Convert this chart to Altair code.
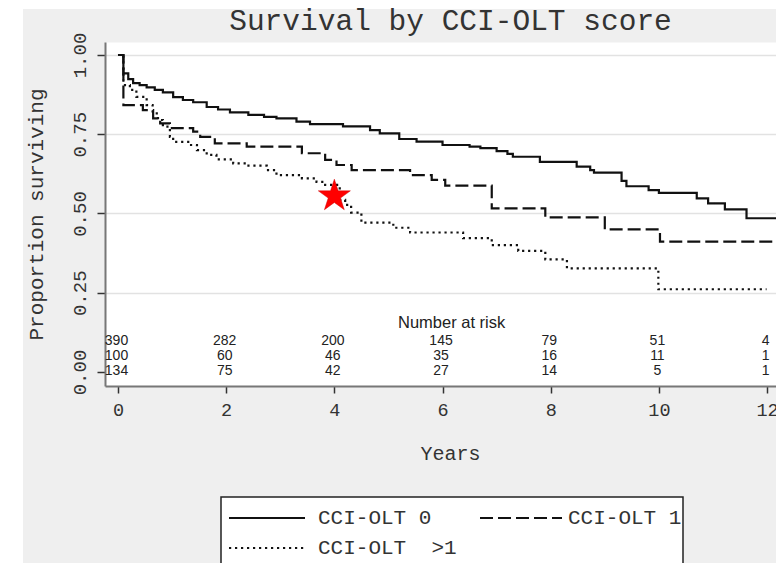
import altair as alt
import pandas as pd

# Kaplan-Meier survival by CCI-OLT score group
series = ["CCI-OLT 0", "CCI-OLT 1", "CCI-OLT  >1"]

# step times (years) and survival proportion after each step
t_cci0 = [0, 0.10, 0.19, 0.28, 0.40, 0.53, 0.68, 0.83, 1.02, 1.20, 1.39, 1.64, 1.85,
          2.07, 2.41, 2.70, 2.93, 3.30, 3.55, 4.16, 4.66, 4.84, 5.20, 5.52, 6.00,
          6.50, 6.70, 7.00, 7.20, 7.30, 7.80, 8.48, 8.73, 8.80, 9.31, 9.40, 9.81,
          10.00, 10.70, 10.91, 11.22, 11.62, 12.165]
s_cci0 = [1.0, 0.942, 0.924, 0.911, 0.905, 0.898, 0.890, 0.882, 0.867, 0.858, 0.851,
          0.836, 0.828, 0.819, 0.811, 0.805, 0.800, 0.790, 0.782, 0.775, 0.763, 0.753,
          0.735, 0.727, 0.716, 0.711, 0.706, 0.697, 0.688, 0.679, 0.663, 0.648, 0.637,
          0.629, 0.603, 0.586, 0.574, 0.565, 0.548, 0.532, 0.513, 0.485, 0.485]

t_cci1 = [0, 0.10, 0.46, 0.65, 0.78, 0.96, 1.39, 1.52, 1.79, 2.38, 3.40, 3.83, 4.04,
          4.32, 5.40, 5.80, 6.05, 6.91, 7.90, 9.00, 10.02, 12.165]
s_cci1 = [1.0, 0.842, 0.826, 0.800, 0.784, 0.769, 0.758, 0.742, 0.721, 0.711, 0.690,
          0.669, 0.653, 0.637, 0.621, 0.606, 0.588, 0.516, 0.488, 0.450, 0.411, 0.411]

t_cci2 = [0, 0.10, 0.22, 0.34, 0.53, 0.64, 0.74, 0.83, 0.96, 1.02, 1.33, 1.46, 1.64,
          1.82, 2.13, 2.38, 2.75, 2.93, 3.40, 3.67, 3.83, 4.10, 4.20, 4.31, 4.50,
          5.09, 5.40, 6.38, 6.91, 7.40, 7.90, 8.30, 9.99, 11.99]
s_cci2 = [1.0, 0.905, 0.890, 0.868, 0.842, 0.816, 0.795, 0.774, 0.742, 0.726, 0.716,
          0.700, 0.685, 0.671, 0.658, 0.651, 0.637, 0.621, 0.611, 0.600, 0.590, 0.543,
          0.527, 0.503, 0.471, 0.455, 0.440, 0.422, 0.400, 0.382, 0.355, 0.327, 0.261,
          0.261]

# number at risk table
risk_years = [0, 2, 4, 6, 8, 10, 12]
risk_cci0 = [390, 282, 200, 145, 79, 51, 4]
risk_cci1 = [100, 60, 46, 35, 16, 11, 1]
risk_cci2 = [134, 75, 42, 27, 14, 5, 1]

# highlighted point
star_years = [4.0]
star_surv = [0.555]

y_ticks = [0, 0.25, 0.5, 0.75, 1.0]

chart_title = "Survival by CCI-OLT score"

curve_rows = []
for name, ts, ss in zip(series, [t_cci0, t_cci1, t_cci2], [s_cci0, s_cci1, s_cci2]):
    for t, s in zip(ts, ss):
        curve_rows.append({"group": name, "years": t, "surv": s})
curves_df = pd.DataFrame(curve_rows)

risk_rows = []
for name, ns in zip(series, [risk_cci0, risk_cci1, risk_cci2]):
    for yr, n in zip(risk_years, ns):
        risk_rows.append({"group": name, "years": yr, "n": n})
risk_df = pd.DataFrame(risk_rows)

star_df = pd.DataFrame({"years": star_years, "surv": star_surv})

MONO = "Liberation Mono"
SANS = "Liberation Sans"
INK = "#222222"

x_scale = alt.Scale(domain=[-0.24, 12.165], nice=False, zero=False)
y_scale = alt.Scale(domain=[-0.0442, 1.041], nice=False, zero=False)

x_axis = alt.Axis(
    values=risk_years, format="d", title="Years", grid=False,
    labelFont=MONO, labelFontSize=18.5, labelColor="#333", labelPadding=7, labelFlush=False,
    tickSize=7, tickColor="#333", tickWidth=1.5,
    domainColor="#777", domainWidth=2,
    titleFont=MONO, titleFontSize=20, titleFontWeight="normal", titleColor="#333",
    titleX=345, titleY=73, titleBaseline="alphabetic",
)
y_axis = alt.Axis(
    values=y_ticks, format=".2f", title="Proportion surviving",
    labelFont=MONO, labelFontSize=19, labelColor="#333",
    labelAngle=270, labelAlign="center", labelBaseline="alphabetic", labelPadding=12,
    tickSize=8, tickColor="#333", tickWidth=1.5,
    domainColor="#777", domainWidth=2,
    grid=True, gridColor="#e2e2e2", gridWidth=1.5,
    gridOpacity={"condition": {"test": "datum.value === 0", "value": 0}, "value": 1},
    titleFont=MONO, titleFontSize=21, titleFontWeight="normal", titleColor="#333",
    titleAngle=270, titleAlign="center", titleBaseline="alphabetic",
    titleX=-63, titleY=172,
)

dash_styles = [[1, 0], [13, 5], [2.2, 3.8]]

curves = alt.Chart(curves_df).mark_line(
    interpolate="step-after", color="#111", strokeWidth=2.2
).encode(
    x=alt.X("years:Q", scale=x_scale, axis=x_axis),
    y=alt.Y("surv:Q", scale=y_scale, axis=y_axis),
    strokeDash=alt.StrokeDash("group:N", scale=alt.Scale(domain=series, range=dash_styles),
                              legend=None),
)

STAR = ("M0,-1 L0.2245,-0.309 L0.951,-0.309 L0.363,0.118 L0.588,0.809 L0,0.382 "
        "L-0.588,0.809 L-0.363,0.118 L-0.951,-0.309 L-0.2245,-0.309 Z")
star = alt.Chart(star_df).mark_point(
    shape=STAR, filled=True, fill="#ff0000", stroke="#d00000", strokeWidth=0.5,
    size=1135, opacity=1
).encode(
    x=alt.X("years:Q", scale=x_scale, axis=x_axis),
    y=alt.Y("surv:Q", scale=y_scale, axis=None),
)

risk = alt.Chart(risk_df).mark_text(
    font=SANS, fontSize=14, color=INK, align="center", baseline="alphabetic", dx=-1.5
).encode(
    x=alt.X("years:Q", scale=x_scale, axis=x_axis),
    y=alt.Y("group:N", scale=alt.Scale(domain=series, range=[303, 333], padding=0), axis=None),
    text="n:Q",
)

risk_title = alt.Chart(pd.DataFrame({"label": ["Number at risk"]})).mark_text(
    font=SANS, fontSize=16.5, color=INK, align="left", baseline="alphabetic"
).encode(x=alt.value(293), y=alt.value(286), text="label:N")

one = pd.DataFrame({"k": [0]})

# heading above the plot panel
heading = alt.Chart(pd.DataFrame({"label": [chart_title]})).mark_text(
    font=MONO, fontSize=29.5, color="#333", align="center", baseline="alphabetic"
).encode(x=alt.value(345.5), y=alt.value(-12), text="label:N")

# white margin strips around the grey panel
strips = alt.layer(
    alt.Chart(one).mark_rect(color="white").encode(
        x=alt.value(-105), x2=alt.value(-82), y=alt.value(-42), y2=alt.value(521)),
    alt.Chart(one).mark_rect(color="white").encode(
        x=alt.value(-105), x2=alt.value(671), y=alt.value(-42), y2=alt.value(-33)),
)

# key below the plot
legend_box = alt.Chart(one).mark_rect(fill="white", stroke=INK, strokeWidth=1.5).encode(
    x=alt.value(116), x2=alt.value(578), y=alt.value(455), y2=alt.value(540))
key_layout = [(124, 200, 476, 213), (375, 457, 476, 463), (124, 200, 506, 213)]
key_parts = [legend_box]
for name, dash, (x1, x2, yk, xt) in zip(series, dash_styles, key_layout):
    key_parts.append(alt.Chart(one).mark_rule(color="#111", strokeWidth=2, strokeDash=dash).encode(
        x=alt.value(x1), x2=alt.value(x2), y=alt.value(yk)))
    key_parts.append(alt.Chart(one).mark_text(
        font=MONO, fontSize=21, color="#333", align="left", baseline="middle"
    ).encode(x=alt.value(xt), y=alt.value(yk), text=alt.value(name.replace(" ", "\u00a0"))))

chart = alt.layer(
    strips, heading, curves, risk, risk_title, star, *key_parts
).resolve_scale(
    y="independent"
).properties(
    width=671, height=344,
    autosize=alt.AutoSizeParams(type="none"),
    padding={"left": 105, "top": 42, "right": 0, "bottom": 177},
    background="#efefef",
).configure_view(fill="white", stroke="transparent")

chart.save("out.html", embed_options={"renderer": "svg", "actions": False})
